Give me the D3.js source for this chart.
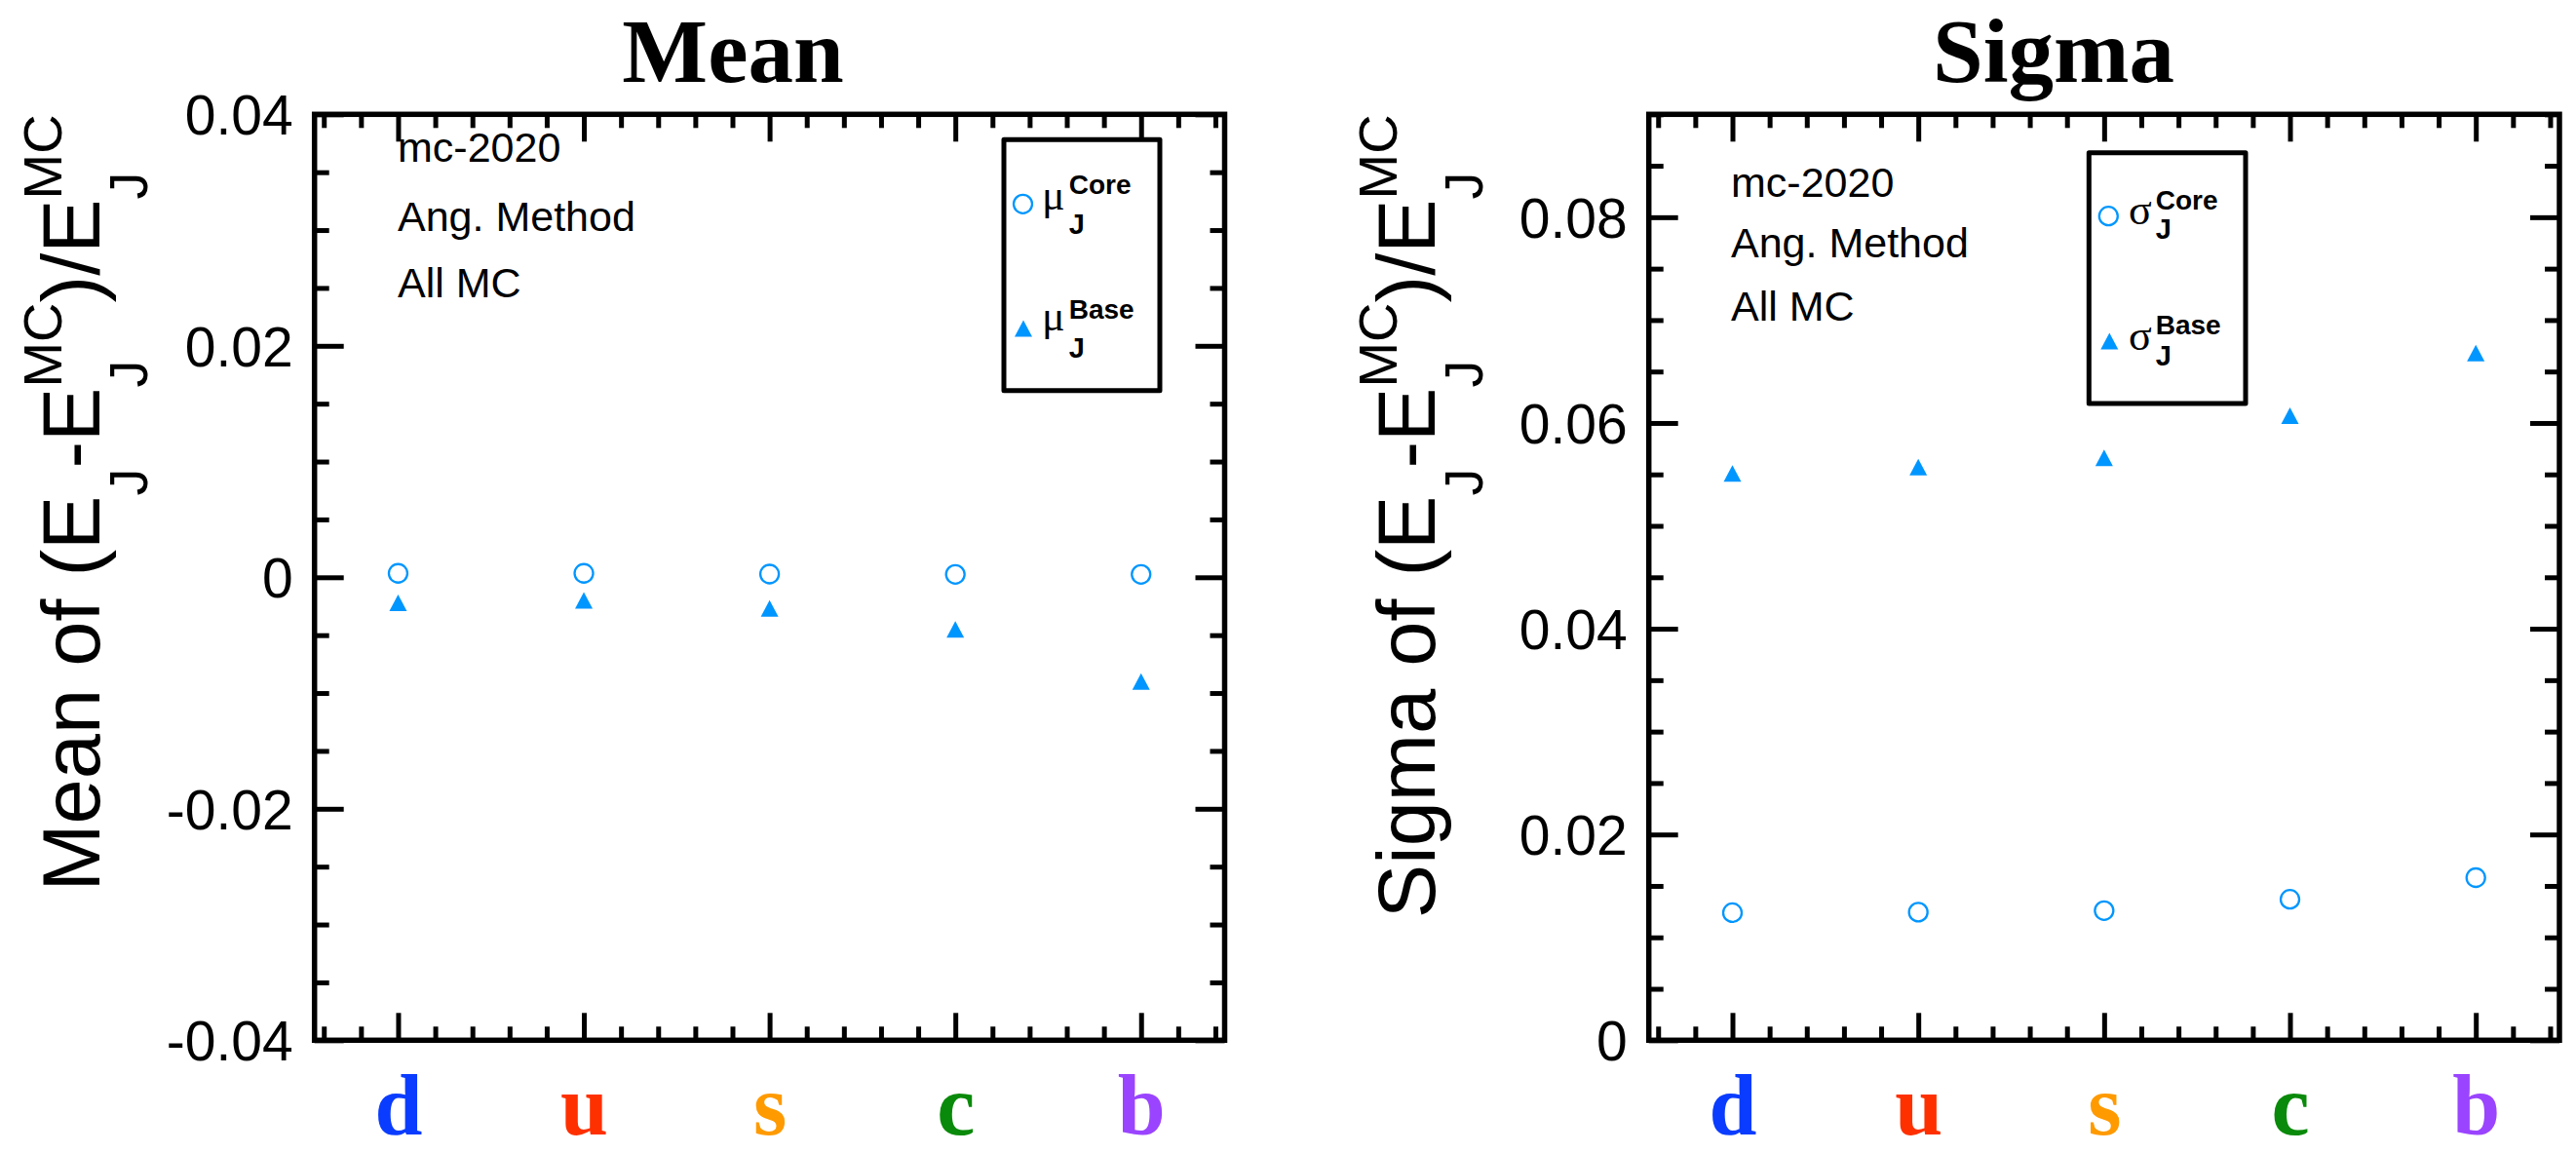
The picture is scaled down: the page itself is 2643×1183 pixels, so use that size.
<!DOCTYPE html>
<html><head><meta charset="utf-8">
<script src="https://cdn.jsdelivr.net/npm/d3@7"></script>
<style>html,body{margin:0;padding:0;background:#fff;} svg{display:block}</style>
</head><body>
<svg id="chart" width="2643" height="1183"></svg>
<script>
// ---------- data ----------
const categories = ["d", "u", "s", "c", "b"];
const categoryColors = ["#0a3cff", "#ff3000", "#ff9a00", "#0a8a0a", "#9a44ff"];
const meanCore  = [0.00034, 0.00034, 0.00028, 0.00025, 0.00025];
const meanBase  = [-0.0022, -0.0020, -0.0027, -0.0045, -0.0090];
const sigmaCore = [0.0124, 0.01245, 0.0126, 0.0137, 0.0158];
const sigmaBase = [0.0551, 0.0557, 0.0566, 0.0607, 0.0668];
const meanTicks = [-0.04, -0.02, 0, 0.02, 0.04];
const meanTickLabels = ["-0.04", "-0.02", "0", "0.02", "0.04"];
const sigmaTicks = [0, 0.02, 0.04, 0.06, 0.08];
const sigmaTickLabels = ["0", "0.02", "0.04", "0.06", "0.08"];
const infoLines = ["mc-2020", "Ang. Method", "All MC"];

// ---------- style ----------
const SANS = "'Liberation Sans', Arial, Helvetica, sans-serif";
const SERIF = "'Liberation Serif', 'Times New Roman', Times, serif";
const MARK = "#0096ff";
const TOP = 117.3, BOTTOM = 1067.3;

const svg = d3.select("#chart");
svg.append("rect").attr("width", 2643).attr("height", 1183).attr("fill", "#fff");

const panels = [
  { title: "Mean", titleX: 752, x0: 322.7, x1: 1256.5, yDomain: [-0.04, 0.04],
    ticks: meanTicks, tickLabels: meanTickLabels, core: meanCore, base: meanBase,
    greek: "\u03bc", yTitleWord: "Mean of (E", yTitleX: 102,
    info: { x: 408, ys: [165.5, 236.8, 305.4] },
    legend: { box: [1030, 143.3, 1190, 400.7], cx: 1049.5, cy: 209.3, tx: 1050, ty: 337,
              gx: 1069, g1: 215, g2: 338.5, sx: 1096.7, sup1: 199.3, sub1: 240, sup2: 327, sub2: 367.3 } },
  { title: "Sigma", titleX: 2107, x0: 1691.7, x1: 2626, yDomain: [0, 0.09],
    ticks: sigmaTicks, tickLabels: sigmaTickLabels, core: sigmaCore, base: sigmaBase,
    greek: "\u03c3", yTitleWord: "Sigma of (E", yTitleX: 1472,
    info: { x: 1776, ys: [202, 264, 328.7] },
    legend: { box: [2143.3, 156.7, 2304, 414], cx: 2163.3, cy: 221.7, tx: 2164.3, ty: 350,
              gx: 2184, g1: 230, g2: 359, sx: 2211.7, sup1: 215, sub1: 245, sup2: 343.3, sub2: 375 } }
];

const triangle = d3.symbol().type({ draw(ctx) { ctx.moveTo(0, -8.5); ctx.lineTo(9, 8.5); ctx.lineTo(-9, 8.5); ctx.closePath(); } })();

panels.forEach(p => {
  const g = svg.append("g");
  const x = d3.scaleLinear().domain([0.55, 5.45]).range([p.x0, p.x1]);
  const y = d3.scaleLinear().domain(p.yDomain).range([BOTTOM, TOP]);
  const xMajor = categories.map((c, i) => i + 1);
  const xMinor = d3.range(3, 28).map(i => i / 5).filter(v => Math.abs(v - Math.round(v)) > 1e-6);
  const yMinor = d3.ticks(p.yDomain[0], p.yDomain[1], Math.round((p.yDomain[1] - p.yDomain[0]) / 0.005))
                   .filter(v => !p.ticks.some(t => Math.abs(t - v) < 1e-9));

  function styleAxis(sel) {
    sel.select(".domain").remove();
    sel.selectAll(".tick line").attr("stroke", "#000").attr("stroke-width", 5);
    sel.attr("font-family", SANS).attr("font-size", 57);
  }
  g.append("g").attr("transform", `translate(${p.x0},0)`)
    .call(d3.axisLeft(y).tickValues(p.ticks).tickFormat((d, i) => p.tickLabels[i]).tickSizeInner(-30).tickSizeOuter(0).tickPadding(22))
    .call(styleAxis).call(s => s.selectAll("text").attr("fill", "#000").attr("dy", "0.36em"));
  g.append("g").attr("transform", `translate(${p.x0},0)`)
    .call(d3.axisLeft(y).tickValues(yMinor).tickFormat("").tickSizeInner(-15).tickSizeOuter(0)).call(styleAxis);
  g.append("g").attr("transform", `translate(${p.x1},0)`)
    .call(d3.axisRight(y).tickValues(p.ticks).tickFormat("").tickSizeInner(-30).tickSizeOuter(0)).call(styleAxis);
  g.append("g").attr("transform", `translate(${p.x1},0)`)
    .call(d3.axisRight(y).tickValues(yMinor).tickFormat("").tickSizeInner(-15).tickSizeOuter(0)).call(styleAxis);
  g.append("g").attr("transform", `translate(0,${BOTTOM})`)
    .call(d3.axisBottom(x).tickValues(xMajor).tickFormat((d, i) => categories[i]).tickSizeInner(-28).tickSizeOuter(0))
    .call(styleAxis)
    .call(s => s.selectAll("text").attr("y", 97).attr("dy", null)
      .attr("font-family", SERIF).attr("font-weight", "bold").attr("font-size", 88)
      .attr("fill", (d, i) => categoryColors[i]));
  g.append("g").attr("transform", `translate(0,${BOTTOM})`)
    .call(d3.axisBottom(x).tickValues(xMinor).tickFormat("").tickSizeInner(-14).tickSizeOuter(0)).call(styleAxis);
  g.append("g").attr("transform", `translate(0,${TOP})`)
    .call(d3.axisTop(x).tickValues(xMajor).tickFormat("").tickSizeInner(-28).tickSizeOuter(0)).call(styleAxis);
  g.append("g").attr("transform", `translate(0,${TOP})`)
    .call(d3.axisTop(x).tickValues(xMinor).tickFormat("").tickSizeInner(-14).tickSizeOuter(0)).call(styleAxis);

  g.append("rect").attr("x", p.x0).attr("y", TOP).attr("width", p.x1 - p.x0).attr("height", BOTTOM - TOP)
    .attr("fill", "none").attr("stroke", "#000").attr("stroke-width", 5.5);

  g.append("text").attr("x", p.titleX).attr("y", 84).attr("text-anchor", "middle")
    .attr("font-family", SERIF).attr("font-weight", "bold").attr("font-size", 93).text(p.title);

  infoLines.forEach((t, i) => g.append("text").attr("x", p.info.x).attr("y", p.info.ys[i])
    .attr("font-family", SANS).attr("font-size", 43).text(t));

  g.selectAll(".core").data(p.core).join("circle").attr("class", "core")
    .attr("cx", (d, i) => x(i + 1)).attr("cy", d => y(d)).attr("r", 9.5)
    .attr("fill", "none").attr("stroke", MARK).attr("stroke-width", 2.3);
  g.selectAll(".base").data(p.base).join("path").attr("class", "base")
    .attr("transform", (d, i) => `translate(${x(i + 1)},${y(d)})`).attr("d", triangle).attr("fill", MARK);

  const L = p.legend;
  g.append("rect").attr("x", L.box[0]).attr("y", L.box[1]).attr("width", L.box[2] - L.box[0]).attr("height", L.box[3] - L.box[1])
    .attr("fill", "#fff").attr("stroke", "#000").attr("stroke-width", 5).attr("stroke-linejoin", "round");
  g.append("circle").attr("cx", L.cx).attr("cy", L.cy).attr("r", 9.5).attr("fill", "none").attr("stroke", MARK).attr("stroke-width", 2.3);
  g.append("path").attr("transform", `translate(${L.tx},${L.ty})`).attr("d", triangle).attr("fill", MARK);
  [["Core", L.g1, L.sup1, L.sub1], ["Base", L.g2, L.sup2, L.sub2]].forEach(([lab, gy, sy, by]) => {
    g.append("text").attr("x", L.gx).attr("y", gy).attr("font-family", SERIF).attr("font-size", 44).text(p.greek);
    g.append("text").attr("x", L.sx).attr("y", sy).attr("font-family", SANS).attr("font-weight", "bold").attr("font-size", 28).text(lab);
    g.append("text").attr("x", L.sx).attr("y", by).attr("font-family", SANS).attr("font-weight", "bold").attr("font-size", 29).text("J");
  });

  const MAIN = 83, SMALL = 56, SUBDY = 49, SUPDY = -39;
  const parts = [
    { main: p.yTitleWord }, { sub: "J" }, { main: "-E" }, { sub: "J", sup: "MC" },
    { main: ")/E" }, { sub: "J", sup: "MC" }
  ];
  const t = g.append("text").attr("font-family", SANS).attr("fill", "#000");
  let pos = 0;
  parts.forEach(pt => {
    if (pt.main) {
      const el = t.append("tspan").attr("x", pos).attr("y", 0).attr("font-size", MAIN).text(pt.main);
      pos += el.node().getComputedTextLength();
    } else {
      let w = 0;
      if (pt.sub) { const el = t.append("tspan").attr("x", pos).attr("y", SUBDY).attr("font-size", SMALL).text(pt.sub); w = Math.max(w, el.node().getComputedTextLength()); }
      if (pt.sup) { const el = t.append("tspan").attr("x", pos).attr("y", SUPDY).attr("font-size", SMALL).text(pt.sup); w = Math.max(w, el.node().getComputedTextLength()); }
      pos += w;
    }
  });
  t.attr("transform", `translate(${p.yTitleX},${TOP + pos}) rotate(-90)`);
});
</script>
</body></html>
